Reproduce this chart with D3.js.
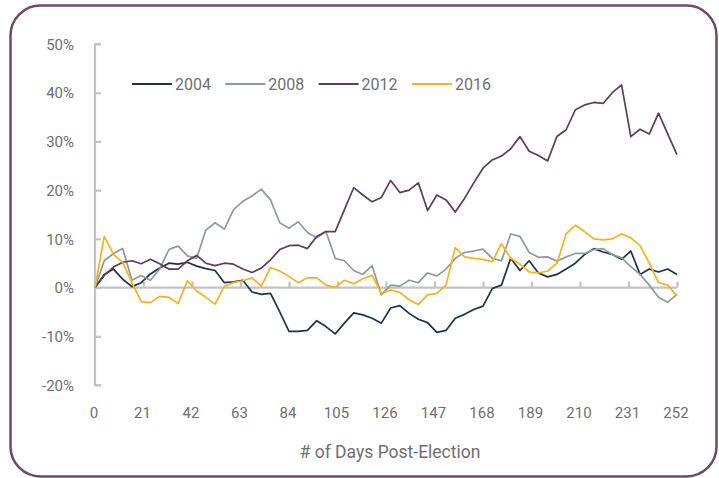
<!DOCTYPE html>
<html>
<head>
<meta charset="utf-8">
<script src="https://cdn.jsdelivr.net/npm/d3@7"></script>
<style>
  html, body { margin: 0; padding: 0; background: #fff; }
  svg text { font-family: Roboto, "Noto Sans", sans-serif; fill: #6f6f6f; }
</style>
</head>
<body>
<svg id="chart" width="719" height="478"></svg>
<script>
// sampled every 4 trading days, % change since election day
const days = d3.range(0, 253, 4);
const xTicks = [0, 21, 42, 63, 84, 105, 126, 147, 168, 189, 210, 231, 252];
const yTicks = [-0.2, -0.1, 0, 0.1, 0.2, 0.3, 0.4, 0.5];
const years = ['2004', '2008', '2012', '2016'];
const colors = ['#1e3346', '#8e9c98', '#5f3d58', '#f6b21c'];

const s2004 = [0, 2.7, 3.8, 1.7, 0.2, 1.0, 2.8, 4.0, 5.0, 4.8, 5.2, 4.4, 3.9, 3.5, 1.0, 1.2,
  1.5, -0.9, -1.4, -1.2, -5.0, -9.0, -9.0, -8.8, -6.8, -8.0, -9.5, -7.3, -5.2, -5.6, -6.3, -7.3,
  -4.2, -3.7, -5.3, -6.5, -7.2, -9.2, -8.8, -6.3, -5.5, -4.5, -3.8, -0.2, 0.5, 6.0, 3.5, 5.5,
  3.0, 2.2, 2.7, 3.8, 5.0, 6.8, 8.0, 7.3, 6.8, 5.8, 7.5, 2.7, 3.8, 3.2, 3.8, 2.7];
const s2008 = [0, 5.5, 7.0, 8.0, 1.5, 2.5, 1.5, 3.8, 7.8, 8.5, 6.5, 6.0, 11.8, 13.3, 12.0, 16.0,
  17.7, 18.8, 20.2, 18.0, 13.3, 12.2, 13.5, 11.3, 10.2, 11.5, 6.0, 5.5, 3.5, 2.7, 4.5, -1.5,
  0.5, 0.3, 1.5, 1.0, 3.0, 2.4, 3.8, 6.0, 7.2, 7.5, 7.9, 6.0, 5.5, 11.0, 10.5, 7.2,
  6.2, 6.3, 5.4, 6.3, 7.0, 7.0, 7.8, 8.0, 6.8, 6.1, 4.3, 2.7, 0.5, -2.0, -3.0, -1.4];
const s2012 = [0, 2.5, 4.2, 5.2, 5.5, 4.9, 5.8, 4.9, 3.8, 3.8, 5.5, 6.6, 5.0, 4.5, 5.0, 4.8,
  3.8, 3.1, 4.0, 5.7, 7.8, 8.6, 8.7, 8.0, 10.5, 11.5, 11.5, 16.0, 20.5, 19.0, 17.6, 18.5,
  22.0, 19.5, 20.0, 21.5, 15.8, 19.0, 18.0, 15.5, 18.3, 21.5, 24.5, 26.2, 27.0, 28.5, 31.0, 28.0,
  27.1, 26.0, 31.0, 32.4, 36.5, 37.5, 38.0, 37.8, 40.0, 41.6, 31.0, 32.5, 31.5, 35.8, 31.5, 27.3];
const s2016 = [0, 10.5, 6.8, 5.1, 1.0, -2.9, -3.1, -1.8, -2.0, -3.3, 1.4, -0.7, -2.0, -3.4, 0.3, 1.0,
  1.4, 2.0, 0.3, 4.1, 3.4, 2.3, 1.0, 2.0, 2.0, 0.5, 0.0, 1.5, 0.8, 1.8, 2.5, -1.2,
  -0.5, -1.0, -2.5, -3.5, -1.5, -1.2, 0.5, 8.2, 6.3, 6.0, 5.8, 5.3, 9.0, 6.0, 4.8, 3.2,
  3.0, 3.4, 5.0, 11.0, 12.8, 11.5, 10.0, 9.8, 10.0, 11.0, 10.2, 8.6, 5.0, 1.0, 0.5, -1.7];
const series = [s2004, s2008, s2012, s2016];

const svg = d3.select('#chart');
const AXIS = '#c3c3c3';
const pct = d => Math.round(d * 100) + '%';   // plain hyphen, like the original

// rounded frame
svg.append('rect')
  .attr('x', 10.5).attr('y', 5.5).attr('width', 706).attr('height', 471)
  .attr('rx', 30).attr('ry', 30)
  .attr('fill', 'none').attr('stroke', '#6c4b64').attr('stroke-width', 2.5);

const x = d3.scaleLinear().domain([0, 252]).range([95, 677]);
const y = d3.scaleLinear().domain([-0.2, 0.5]).range([385, 44]);

// y axis: line on the left, ticks pointing into the plot
const gy = svg.append('g').attr('transform', `translate(${x(0)},0)`)
  .call(d3.axisRight(y).tickValues(yTicks).tickSize(6).tickFormat(pct));
gy.select('.domain').attr('stroke', AXIS).attr('stroke-width', 2.2).attr('d', `M6,${y(0.5)}H0V${y(-0.2)}H6`);
gy.selectAll('.tick line').attr('stroke', AXIS).attr('stroke-width', 2.2);
gy.selectAll('.tick text').attr('x', -21).attr('text-anchor', 'end')
  .style('font-size', '15px').attr('dy', '0.35em');

// x axis sits on the 0% line, ticks point up; labels below the plot
const gx = svg.append('g').attr('transform', `translate(0,${y(0)})`)
  .call(d3.axisTop(x).tickValues(xTicks).tickSize(6).tickFormat(''));
gx.select('.domain').attr('stroke', AXIS).attr('stroke-width', 2.2).attr('d', `M${x(0)},0H${x(252)}`);
gx.selectAll('.tick line').attr('stroke', AXIS).attr('stroke-width', 2.2);

svg.append('g').selectAll('text').data(xTicks).join('text')
  .attr('x', d => x(d) - 1).attr('y', 418)
  .attr('text-anchor', 'middle').style('font-size', '15px')
  .text(d => d);

svg.append('text')
  .attr('x', 390).attr('y', 458).attr('text-anchor', 'middle')
  .style('font-size', '17.5px')
  .text('# of Days Post-Election');

// lines
const line = d3.line()
  .x((d, i) => x(days[i]))
  .y(d => y(d / 100));

svg.append('g').selectAll('path').data(series).join('path')
  .attr('d', line)
  .attr('fill', 'none')
  .attr('stroke', (d, i) => colors[i])
  .attr('stroke-width', 1.7)
  .attr('stroke-linejoin', 'round');

// legend
const leg = svg.append('g').attr('transform', 'translate(132,84)');
const item = leg.selectAll('g').data(years).join('g')
  .attr('transform', (d, i) => `translate(${i * 93.3},0)`);
item.append('line').attr('x1', 0).attr('x2', 40)
  .attr('stroke', (d, i) => colors[i]).attr('stroke-width', 1.8);
item.append('text').attr('x', 43).attr('dy', '0.35em')
  .style('font-size', '16px').text(d => d);
</script>
</body>
</html>
